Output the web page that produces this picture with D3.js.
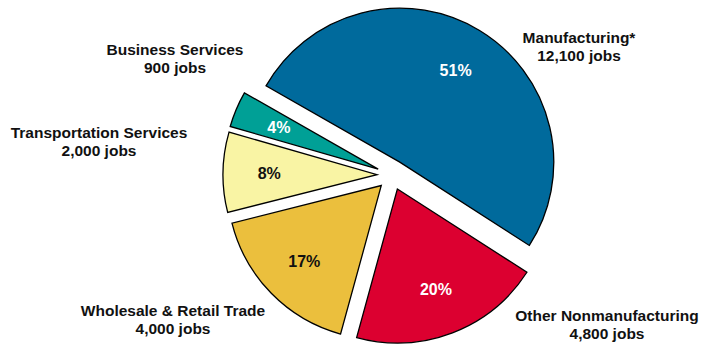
<!DOCTYPE html>
<html>
<head>
<meta charset="utf-8">
<script src="https://cdn.jsdelivr.net/npm/d3@7"></script>
<style>
  html, body { margin: 0; padding: 0; background: #fff; }
  svg { display: block; }
  text { font-family: "Liberation Sans", Arial, Helvetica, sans-serif; font-weight: bold; }
</style>
</head>
<body>
<svg id="chart" width="701" height="345"></svg>
<script>
// Jobs by sector
const categories = ["Manufacturing*", "Other Nonmanufacturing", "Wholesale & Retail Trade", "Transportation Services", "Business Services"];
const jobs = [12100, 4800, 4000, 2000, 900];
const colors = ["#006a9c", "#dc0030", "#ebbf3d", "#f9f4a4", "#00a096"];
const shareTextColors = ["#ffffff", "#ffffff", "#111111", "#111111", "#ffffff"];

// Layout
const width = 701, height = 345;
const cx = 392, cy = 175;      // pie centre before slices are pulled apart
const radius = 154;
const explode = 15;            // distance each slice is pulled out
const labelRadius = 0.7 * radius;
const startAngle = -60.3 * Math.PI / 180;

// Category label anchors (centre of first line)
const labelAnchors = [
  [579, 43], [607, 321], [173, 316], [99, 138], [175, 55]
];
const lineGap = 17.5;

const svg = d3.select("#chart");
const data = categories.map((c, i) => ({ name: c, jobs: jobs[i], color: colors[i], textColor: shareTextColors[i] }));
const total = d3.sum(jobs);

const pie = d3.pie()
  .sort(null)
  .value(d => d.jobs)
  .startAngle(startAngle)
  .endAngle(startAngle + 2 * Math.PI);

const arc = d3.arc().innerRadius(0).outerRadius(radius);
const labelArc = d3.arc().innerRadius(labelRadius).outerRadius(labelRadius);

const arcs = pie(data);

const slices = svg.append("g")
  .attr("transform", `translate(${cx},${cy})`)
  .selectAll("g.slice")
  .data(arcs)
  .join("g")
  .attr("class", "slice")
  .attr("transform", d => {
    const mid = (d.startAngle + d.endAngle) / 2;
    return `translate(${explode * Math.sin(mid)},${-explode * Math.cos(mid)})`;
  });

slices.append("path")
  .attr("d", arc)
  .attr("fill", d => d.data.color)
  .attr("stroke", "#000")
  .attr("stroke-width", 1.3)
  .attr("stroke-linejoin", "miter");

const pct = d3.format(".0%");
slices.append("text")
  .attr("transform", d => `translate(${labelArc.centroid(d)})`)
  .attr("text-anchor", "middle")
  .attr("dy", "0.36em")
  .attr("font-size", 16)
  .attr("fill", d => d.data.textColor)
  .text(d => pct(d.data.jobs / total));

// Category names with job counts
const fmt = d3.format(",");
const labels = svg.append("g")
  .selectAll("text")
  .data(data)
  .join("text")
  .attr("x", (d, i) => labelAnchors[i][0])
  .attr("y", (d, i) => labelAnchors[i][1])
  .attr("text-anchor", "middle")
  .attr("font-size", 15.5)
  .attr("fill", "#111");

labels.append("tspan")
  .text(d => d.name);
labels.append("tspan")
  .attr("x", (d, i) => labelAnchors[i][0])
  .attr("dy", lineGap)
  .text(d => fmt(d.jobs) + " jobs");
</script>
</body>
</html>
